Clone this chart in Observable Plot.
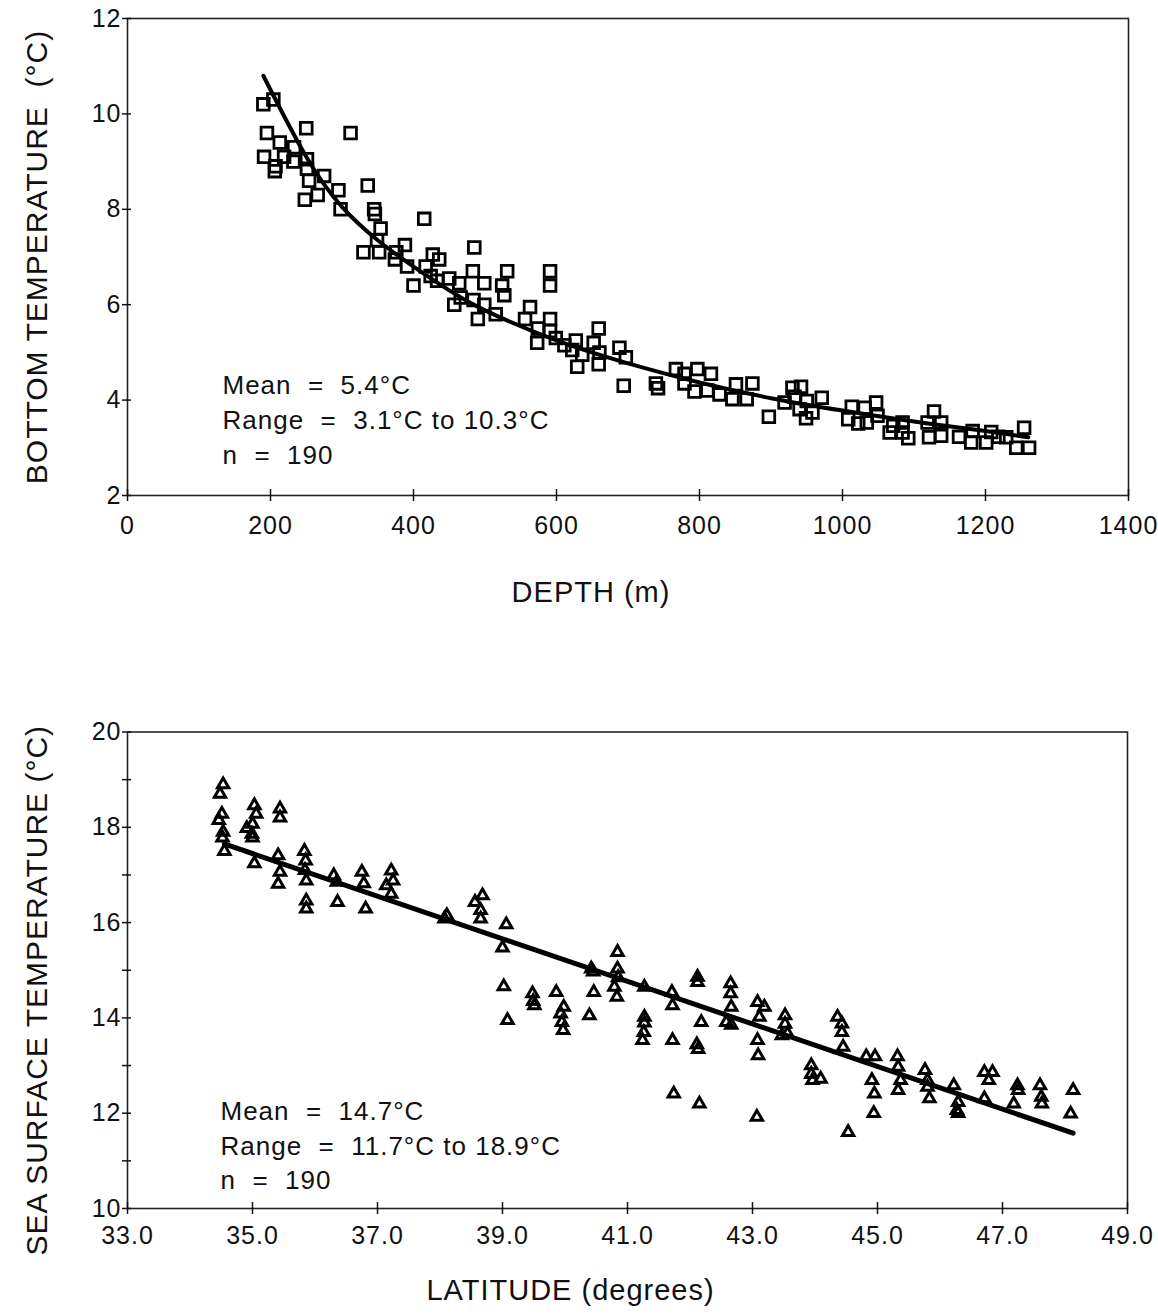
<!DOCTYPE html>
<html>
<head>
<meta charset="utf-8">
<script src="https://cdn.jsdelivr.net/npm/d3@7"></script>
<script src="https://cdn.jsdelivr.net/npm/@observablehq/plot@0.6"></script>
<style>
  html, body { margin: 0; padding: 0; background: #fff; }
  #chart { width: 1158px; }
  #chart svg { display: block; }
</style>
</head>
<body>
<div id="chart"></div>
<script>
// ---------- Top panel: bottom temperature vs depth ----------
const depthM = [
  190,204,195,191,213,207,206,219,232,233,250,251,251,254,248,266,275,295,298,312,
  336,345,346,354,349,330,352,376,388,374,391,415,400,417,424,427,436,433,450,464,
  457,466,485,483,484,499,499,490,515,524,531,527,563,556,573,574,591,591,591,591,
  599,611,627,629,622,636,652,659,659,660,688,697,694,739,742,767,779,797,816,779,
  793,811,828,851,874,846,866,897,930,942,933,950,971,940,949,958,919,1013,1031,1047,
  1008,1022,1034,1049,1066,1071,1084,1092,1084,1128,1119,1138,1121,1138,1163,1182,1208,1180,1201,1229,
  1218,1254,1243,1261
];
const bottomTempC = [
  10.2,10.3,9.6,9.1,9.4,8.9,8.8,9.1,9.0,9.3,9.7,9.05,8.85,8.6,8.2,8.3,8.7,8.4,8.0,9.6,
  8.5,8.0,7.9,7.6,7.35,7.1,7.1,7.1,7.25,6.95,6.8,7.8,6.4,6.8,6.6,7.05,6.95,6.5,6.55,6.45,
  6.0,6.15,7.2,6.7,6.1,6.45,6.0,5.7,5.8,6.4,6.7,6.2,5.95,5.7,5.2,5.5,6.7,6.4,5.7,5.45,
  5.3,5.15,5.25,4.7,5.05,4.95,5.2,5.5,4.75,5.0,5.1,4.9,4.3,4.35,4.25,4.65,4.55,4.65,4.55,4.35,
  4.18,4.2,4.12,4.33,4.35,4.02,4.02,3.65,4.26,4.28,4.07,3.98,4.05,3.81,3.62,3.74,3.95,3.86,3.84,3.95,
  3.6,3.51,3.53,3.67,3.32,3.46,3.32,3.2,3.53,3.76,3.53,3.53,3.22,3.25,3.23,3.35,3.33,3.11,3.11,3.22,
  3.23,3.42,3.0,3.0
];
// fitted curve
const curveDepthM = [190,250,300,350,400,450,500,600,700,800,900,1000,1100,1200,1260];
const curveTempC  = [10.8,9.1,8.05,7.35,6.8,6.3,5.88,5.25,4.77,4.37,4.04,3.78,3.55,3.35,3.22];

const depthTicks = [0,200,400,600,800,1000,1200,1400];
const bottomTempTicks = [2,4,6,8,10,12];
const topNote = "Mean\u00a0 =\u00a0 5.4°C\nRange\u00a0 =\u00a0 3.1°C to 10.3°C\nn\u00a0 =\u00a0 190";

// ---------- Bottom panel: sea surface temperature vs latitude ----------
const latDeg = [
  34.53,34.48,34.51,34.46,34.53,34.52,34.55,34.91,35.03,35.06,35.0,34.99,35.0,35.03,35.44,35.44,35.41,35.44,35.41,35.83,
  35.85,35.84,35.86,35.86,35.86,36.3,36.35,36.36,36.75,36.78,36.81,37.22,37.25,37.14,37.22,38.11,38.07,38.56,38.68,38.65,
  38.65,39.06,39.0,39.02,39.08,39.48,39.51,39.49,39.86,39.98,39.93,39.95,39.97,40.42,40.45,40.46,40.39,40.84,40.84,40.85,
  40.79,40.83,41.27,41.27,41.27,41.26,41.24,41.71,41.72,41.72,41.74,42.12,42.12,42.18,42.11,42.13,42.15,42.65,42.65,42.66,
  42.58,42.66,43.08,43.19,43.11,43.08,43.09,43.07,43.52,43.52,43.56,43.47,43.94,43.94,44.09,43.96,44.36,44.43,44.43,44.45,
  44.53,44.82,44.96,44.91,44.95,44.94,45.32,45.33,45.37,45.33,45.76,45.8,45.8,45.83,46.22,46.29,46.27,46.29,46.71,46.84,
  46.78,46.71,47.24,47.25,47.18,47.6,47.62,47.63,48.13,48.09
];
const sstC = [
  18.9,18.7,18.28,18.15,17.9,17.78,17.5,17.98,18.46,18.28,18.07,17.86,17.78,17.24,18.39,18.2,17.41,17.06,16.81,17.5,
  17.3,17.1,16.88,16.46,16.29,16.99,16.85,16.43,17.06,16.82,16.29,17.09,16.88,16.78,16.6,16.15,16.08,16.43,16.57,16.26,
  16.08,15.96,15.47,14.66,13.95,14.51,14.26,14.35,14.54,14.23,14.09,13.91,13.74,15.03,14.97,14.54,14.05,15.38,15.03,14.85,
  14.65,14.44,14.65,14.02,13.9,13.7,13.53,14.54,14.26,13.53,12.41,14.86,14.75,13.91,13.44,13.34,12.2,14.72,14.51,14.23,
  13.91,13.85,14.33,14.23,14.02,13.53,13.21,11.92,14.05,13.87,13.67,13.63,13.0,12.82,12.72,12.69,14.02,13.88,13.7,13.39,
  11.6,13.19,13.19,12.69,12.41,12.0,13.19,12.97,12.69,12.48,12.9,12.69,12.55,12.31,12.58,12.23,12.06,12.0,12.86,12.86,
  12.69,12.31,12.58,12.48,12.2,12.58,12.34,12.2,12.48,11.99
];
// regression line end points
const fitLatDeg = [34.55, 48.13];
const fitSstC   = [17.65, 11.58];

const latTicks = [33,35,37,39,41,43,45,47,49];
const sstTicks = [10,12,14,16,18,20];
const sstMinorTicks = [11,13,15,17,19];
const bottomNote = "Mean\u00a0 =\u00a0 14.7°C\nRange\u00a0 =\u00a0 11.7°C to 18.9°C\nn\u00a0 =\u00a0 190";

// ---------- drawing ----------
const FONT = "'Liberation Sans', Arial, Helvetica, sans-serif";
const INK = "#111";
const baseStyle = {fontFamily: FONT, fontSize: "25px", color: INK, background: "#fff", letterSpacing: "1px", overflow: "visible"};

const topRows = depthM.map((d, i) => ({depth: d, temp: bottomTempC[i]}));
const curveRows = curveDepthM.map((d, i) => ({depth: d, temp: curveTempC[i]}));
const sstRows = latDeg.map((d, i) => ({lat: d, sst: sstC[i]}));
const fitRows = fitLatDeg.map((d, i) => ({lat: d, sst: fitSstC[i]}));

const topPlot = Plot.plot({
  width: 1158, height: 620,
  marginLeft: 127, marginRight: 30, marginTop: 18, marginBottom: 125,
  style: baseStyle,
  x: {domain: [0, 1400]},
  y: {domain: [2, 12]},
  marks: [
    Plot.frame({stroke: "#222", strokeWidth: 1.6}),
    Plot.axisX({ticks: depthTicks, tickSize: 12, dy: -6, fill: "none", label: null, strokeWidth: 1.5}),
    Plot.axisX({ticks: depthTicks, tickSize: 0, tickPadding: 21, stroke: "none", label: null, tickFormat: d => String(d), fontSize: 25}),
    Plot.axisY({ticks: bottomTempTicks, tickSize: 9, dx: 4, fill: "none", label: null, strokeWidth: 1.5}),
    Plot.axisY({ticks: bottomTempTicks, tickSize: 0, tickPadding: 6, stroke: "none", label: null, tickFormat: d => String(d), fontSize: 25}),
    Plot.dot(topRows, {x: "depth", y: "temp", symbol: "square", r: 6.6, stroke: "#000", strokeWidth: 2.8, fill: "none"}),
    Plot.line(curveRows, {x: "depth", y: "temp", curve: "natural", stroke: "#000", strokeWidth: 4}),
    Plot.text(["BOTTOM TEMPERATURE\u00a0 (°C)"], {text: d => d, frameAnchor: "left", textAnchor: "middle", lineAnchor: "middle", rotate: -90, dx: -90, fontSize: 30}),
    Plot.text(["DEPTH (m)"], {text: d => d, frameAnchor: "bottom", textAnchor: "middle", lineAnchor: "middle", dx: -37, dy: 97, fontSize: 29}),
    Plot.text([topNote], {text: d => d, frameAnchor: "top-left", textAnchor: "start", lineAnchor: "top", dx: 95, dy: 350, fontSize: 26, lineHeight: 1.36})
  ]
});

const bottomPlot = Plot.plot({
  width: 1158, height: 694,
  marginLeft: 127, marginRight: 31, marginTop: 111.5, marginBottom: 106,
  style: baseStyle,
  x: {domain: [33, 49]},
  y: {domain: [10, 20]},
  marks: [
    Plot.frame({stroke: "#222", strokeWidth: 1.6}),
    Plot.axisX({ticks: latTicks, tickSize: 12, dy: -6, fill: "none", label: null, strokeWidth: 1.5}),
    Plot.axisX({ticks: latTicks, tickSize: 0, tickPadding: 18, stroke: "none", label: null, tickFormat: d => d.toFixed(1), fontSize: 25}),
    Plot.axisY({ticks: sstMinorTicks, tickSize: 9, dx: 4, fill: "none", label: null, strokeWidth: 1.5}),
    Plot.axisY({ticks: sstTicks, tickSize: 9, dx: 4, fill: "none", label: null, strokeWidth: 1.5}),
    Plot.axisY({ticks: sstTicks, tickSize: 0, tickPadding: 6, stroke: "none", label: null, tickFormat: d => String(d), fontSize: 25}),
    Plot.dot(sstRows, {x: "lat", y: "sst", symbol: "triangle", r: 4.2, stroke: "#000", strokeWidth: 3, fill: "none"}),
    Plot.line(fitRows, {x: "lat", y: "sst", stroke: "#000", strokeWidth: 5}),
    Plot.text(["SEA SURFACE TEMPERATURE (°C)"], {text: d => d, frameAnchor: "left", textAnchor: "middle", lineAnchor: "middle", rotate: -90, dx: -90, dy: 20, fontSize: 30}),
    Plot.text(["LATITUDE (degrees)"], {text: d => d, frameAnchor: "bottom", textAnchor: "middle", lineAnchor: "middle", dx: -57, dy: 82, fontSize: 29}),
    Plot.text([bottomNote], {text: d => d, frameAnchor: "top-left", textAnchor: "start", lineAnchor: "top", dx: 93, dy: 364, fontSize: 26, lineHeight: 1.32})
  ]
});

const root = document.getElementById("chart");
root.appendChild(topPlot);
root.appendChild(bottomPlot);
</script>
</body>
</html>
